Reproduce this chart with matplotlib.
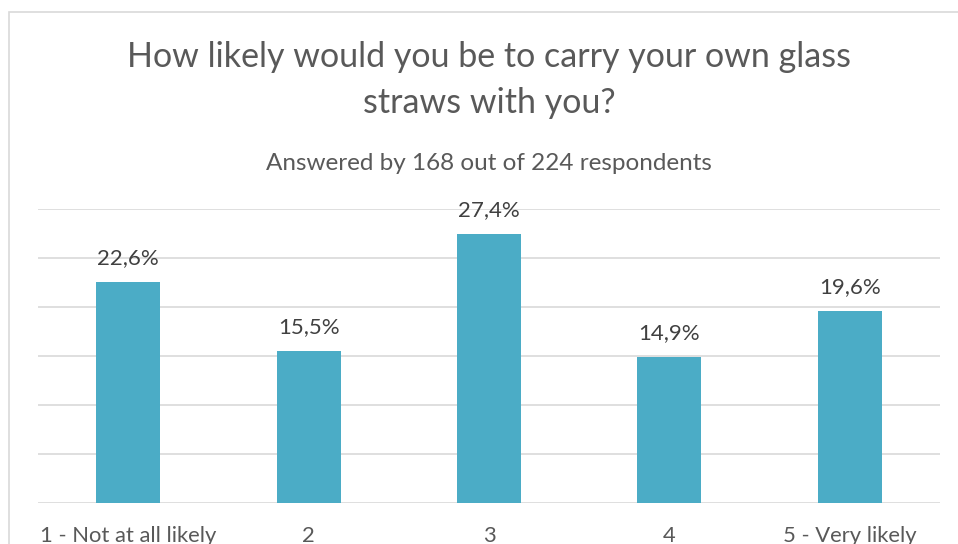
import matplotlib.pyplot as plt
from matplotlib.patches import Rectangle

# Survey results
categories = ["1 - Not at all likely", "2", "3", "4", "5 - Very likely"]
shares = [22.6, 15.5, 27.4, 14.9, 19.6]
value_labels = ["22,6%", "15,5%", "27,4%", "14,9%", "19,6%"]

title = "How likely would you be to carry your own glass\nstraws with you?"
subtitle = "Answered by 168 out of 224 respondents"

BAR_COLOR = "#4BACC6"
GRID_COLOR = "#D9D9D9"
TITLE_COLOR = "#595959"
LABEL_COLOR = "#404040"

plt.rcParams["font.family"] = ["Lato", "DejaVu Sans"]

W, H = 958, 544
fig = plt.figure(figsize=(W / 100, H / 100), dpi=100)

# chart frame, cut off at the right and bottom edges
fig.add_artist(Rectangle((8.5 / W, -0.1), 1.2, 1 - 11.5 / H + 0.1,
                         transform=fig.transFigure, fill=False,
                         edgecolor=GRID_COLOR, linewidth=1.2))

ax = fig.add_axes([38 / W, 1 - 503 / H, (940 - 38) / W, (503 - 209) / H])
x = range(len(categories))
bars = ax.bar(x, shares, width=0.355, color=BAR_COLOR, zorder=2)

ax.set_ylim(0, 30)
ax.set_xlim(-0.5, len(categories) - 0.5)
ax.set_yticks(range(0, 31, 5))
ax.yaxis.grid(True, color=GRID_COLOR, linewidth=1.2, zorder=0)
ax.tick_params(axis="y", left=False, labelleft=False)
ax.tick_params(axis="x", bottom=False, labelsize=15.8, labelcolor=TITLE_COLOR, pad=13)
ax.set_xticks(list(x))
ax.set_xticklabels(categories)
for side in ["top", "right", "left", "bottom"]:
    ax.spines[side].set_visible(False)

for bar, lab in zip(bars, value_labels):
    ax.annotate(lab, (bar.get_x() + bar.get_width() / 2, bar.get_height()),
                xytext=(0, 10), textcoords="offset points",
                ha="center", va="bottom", fontsize=16, color=LABEL_COLOR)

fig.text(489 / W, 1 - 80 / H, title, ha="center", va="center",
         fontsize=24.5, color=TITLE_COLOR, linespacing=1.55)
fig.text(489 / W, 1 - 164 / H, subtitle, ha="center", va="center",
         fontsize=17.5, color=TITLE_COLOR)

fig.savefig("out.png", dpi=100)
